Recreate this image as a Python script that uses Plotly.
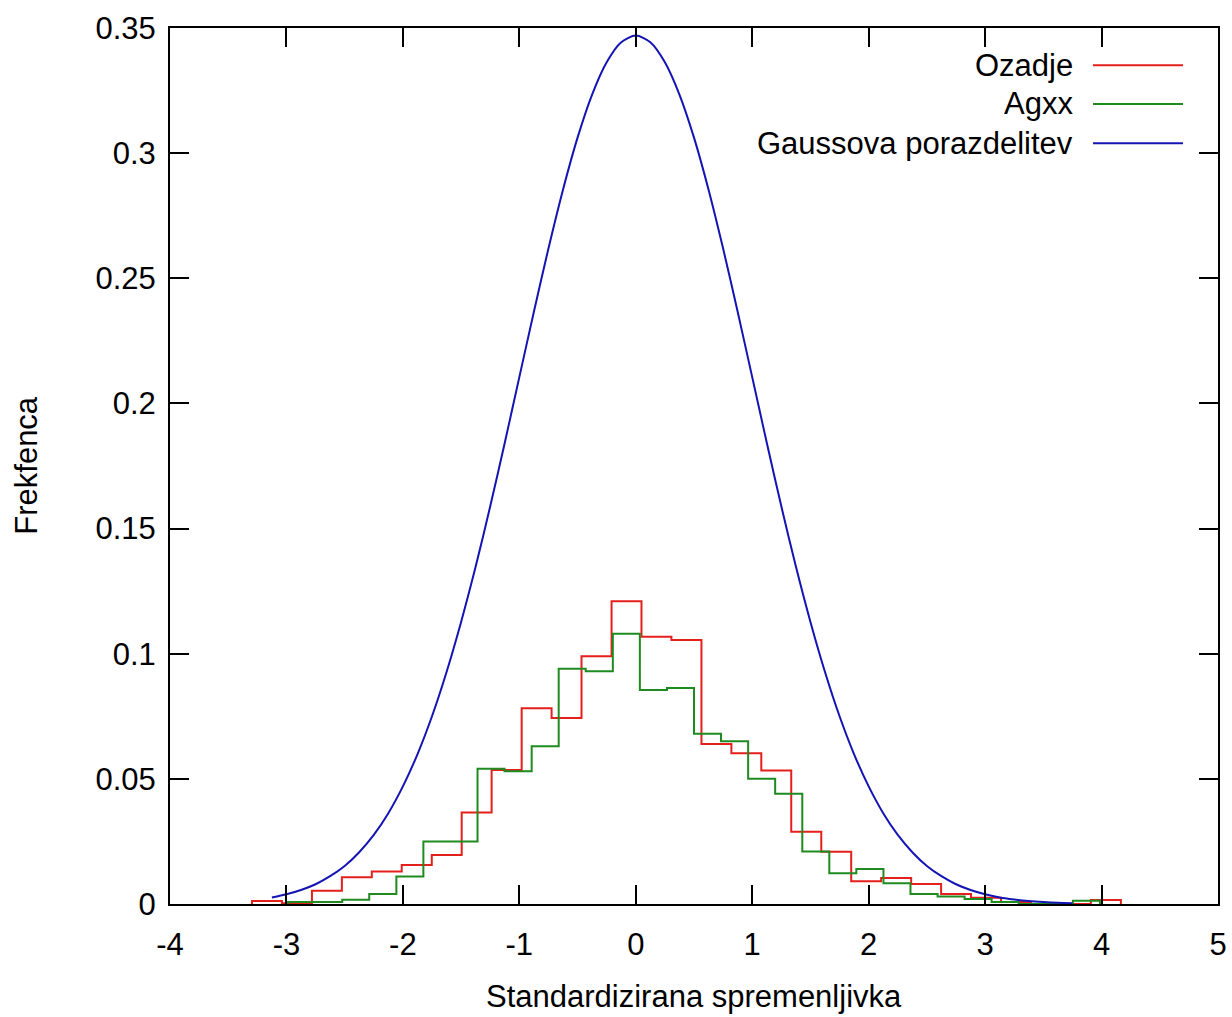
import plotly.graph_objects as go

# ---- data ----
red_edges = [-3.296, -3.039, -2.781, -2.524, -2.267, -2.010, -1.752, -1.495, -1.238, -0.980,
             -0.723, -0.466, -0.208, 0.049, 0.306, 0.564, 0.821, 1.078, 1.335, 1.593,
             1.850, 2.107, 2.365, 2.622, 2.879, 3.137, 3.394, 3.651, 3.908, 4.166]
red_freq = [0.0012, 0.0003, 0.0053, 0.0107, 0.0130, 0.0156, 0.0196, 0.0366, 0.0535, 0.0782,
            0.0743, 0.0990, 0.1210, 0.1068, 0.1055, 0.0639, 0.0602, 0.0533, 0.0289, 0.0209,
            0.0091, 0.0104, 0.0080, 0.0040, 0.0025, 0.0008, 0.0, 0.0, 0.0016]

green_edges = [-2.986, -2.754, -2.521, -2.289, -2.056, -1.824, -1.592, -1.359, -1.127, -0.894,
               -0.662, -0.430, -0.197, 0.035, 0.268, 0.500, 0.732, 0.965, 1.197, 1.430,
               1.662, 1.894, 2.127, 2.359, 2.592, 2.824, 3.056, 3.289, 3.521, 3.754, 3.986]
green_freq = [0.0008, 0.0008, 0.0017, 0.0040, 0.0110, 0.0250, 0.0250, 0.0540, 0.0530, 0.0630,
              0.0940, 0.0930, 0.1080, 0.0855, 0.0863, 0.0680, 0.0650, 0.0500, 0.0440, 0.0210,
              0.0123, 0.0140, 0.0083, 0.0040, 0.0030, 0.0020, 0.0008, 0.0, 0.0, 0.0013]

gauss_x = [-3.125, -3.0, -2.875, -2.75, -2.625, -2.5, -2.375, -2.25, -2.125, -2.0,
           -1.875, -1.75, -1.625, -1.5, -1.375, -1.25, -1.125, -1.0, -0.875, -0.75,
           -0.625, -0.5, -0.375, -0.25, -0.125, 0.0, 0.125, 0.25, 0.375, 0.5,
           0.625, 0.75, 0.875, 1.0, 1.125, 1.25, 1.375, 1.5, 1.625, 1.75,
           1.875, 2.0, 2.125, 2.25, 2.375, 2.5, 2.625, 2.75, 2.875, 3.0,
           3.125, 3.25, 3.375, 3.5, 3.625, 3.75]
gauss_y = [0.0026, 0.0039, 0.0056, 0.0079, 0.0111, 0.0152, 0.0207, 0.0276, 0.0363, 0.0470,
           0.0598, 0.0750, 0.0927, 0.1127, 0.1348, 0.1589, 0.1843, 0.2105, 0.2366, 0.2619,
           0.2854, 0.3062, 0.3234, 0.3363, 0.3443, 0.3470, 0.3443, 0.3363, 0.3234, 0.3062,
           0.2854, 0.2619, 0.2366, 0.2105, 0.1843, 0.1589, 0.1348, 0.1127, 0.0927, 0.0750,
           0.0598, 0.0470, 0.0363, 0.0276, 0.0207, 0.0152, 0.0111, 0.0079, 0.0056, 0.0039,
           0.0026, 0.0018, 0.0012, 0.0008, 0.0005, 0.0003]

x_ticks = [-4, -3, -2, -1, 0, 1, 2, 3, 4, 5]
y_ticks = [0, 0.05, 0.1, 0.15, 0.2, 0.25, 0.3, 0.35]
y_tick_text = ["0", "0.05", "0.1", "0.15", "0.2", "0.25", "0.3", "0.35"]

series_names = ["Ozadje", "Agxx", "Gaussova porazdelitev"]
colors = ["#e3201c", "#1f8a1f", "#1414b4"]
x_title = "Standardizirana spremenljivka"
y_title = "Frekfenca"

FONT = "Liberation Sans, Arial, sans-serif"
FS = 31


def steps(edges, vals):
    xs = [edges[0]] + list(edges) + [edges[-1]]
    ys = [0] + list(vals) + [vals[-1], 0]
    return xs, ys


fig = go.Figure()
rx, ry = steps(red_edges, red_freq)
fig.add_trace(go.Scatter(x=rx, y=ry, mode="lines", line=dict(color=colors[0], width=2, shape="hv"),
                         name=series_names[0], showlegend=False))
gx, gy = steps(green_edges, green_freq)
fig.add_trace(go.Scatter(x=gx, y=gy, mode="lines", line=dict(color=colors[1], width=2, shape="hv"),
                         name=series_names[1], showlegend=False))
fig.add_trace(go.Scatter(x=gauss_x, y=gauss_y, mode="lines",
                         line=dict(color=colors[2], width=2, shape="spline", smoothing=0.8),
                         name=series_names[2], showlegend=False))

# gnuplot-style legend: text right aligned, sample line on the right
leg_y = [0.9574, 0.9133, 0.8685]
for name, col, yy in zip(series_names, colors, leg_y):
    fig.add_annotation(xref="paper", yref="paper", x=0.8636, y=yy, text=name, showarrow=False,
                       xanchor="right", yanchor="middle", font=dict(family=FONT, size=FS, color="black"))
    fig.add_shape(type="line", xref="paper", yref="paper", x0=0.8807, x1=0.9666, y0=yy, y1=yy,
                  line=dict(color=col, width=2))

# axis titles
fig.add_annotation(xref="paper", yref="paper", x=0.5, y=-0.1055, text=x_title, showarrow=False,
                   xanchor="center", yanchor="middle", font=dict(family=FONT, size=FS, color="black"))
fig.add_annotation(xref="paper", yref="paper", x=-0.1365, y=0.5014, text=y_title, showarrow=False,
                   textangle=-90, xanchor="center", yanchor="middle",
                   font=dict(family=FONT, size=FS, color="black"))

axis_common = dict(showline=True, linecolor="black", linewidth=2, mirror="ticks",
                   ticks="inside", ticklen=19, tickwidth=2, tickcolor="black",
                   showgrid=False, zeroline=False, automargin=False,
                   tickfont=dict(family=FONT, size=FS, color="black"))

fig.update_xaxes(range=[-4, 5], tickvals=x_ticks, ticktext=[str(v) for v in x_ticks],
                 ticklabelstandoff=12, **axis_common)
fig.update_yaxes(range=[0, 0.35], tickvals=y_ticks, ticktext=y_tick_text,
                 ticklabelstandoff=6, **axis_common)

fig.update_layout(width=1232, height=1017, margin=dict(l=170, r=14, t=28, b=113, pad=0),
                  plot_bgcolor="white", paper_bgcolor="white",
                  font=dict(family=FONT, size=FS, color="black"))

fig.write_html("out.html", config={"displayModeBar": False},
               post_script="document.body.style.margin='0px';document.body.style.overflow='hidden';")
